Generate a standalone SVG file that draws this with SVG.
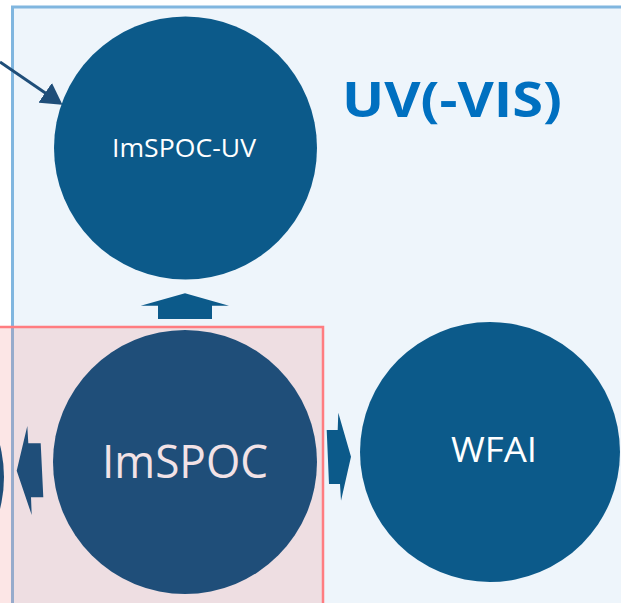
<svg xmlns="http://www.w3.org/2000/svg" width="621" height="603" viewBox="0 0 621 603">
  <style>
    .lbl { font-family: "Open Sans", "Liberation Sans", sans-serif; text-anchor: middle; }
    .dark { fill: #1F4E79; }
    .mid { fill: #0C5A8A; }
  </style>
  <defs>
    <marker id="ah" markerWidth="8" markerHeight="8" refX="6" refY="4" orient="auto" markerUnits="strokeWidth">
      <path d="M0,0 L7,4 L0,8 Z" fill="#1F4E79"/>
    </marker>
  </defs>
  <rect width="621" height="603" fill="#ffffff"/>
  <g id="region-uv">
    <rect x="12.5" y="7" width="640" height="640" fill="#EEF5FB" stroke="#80B6DF" stroke-width="3"/>
  </g>
  <g id="region-imspoc">
    <rect x="-20" y="327" width="343" height="320" fill="#F08080" fill-opacity="0.2" stroke="#FF7C80" stroke-width="2.5"/>
  </g>
  <g id="connectors">
    <line x1="0" y1="62" x2="60" y2="103" stroke="#1F4E79" stroke-width="3" marker-end="url(#ah)"/>
    <polygon class="mid" points="185,293.3 229,305.7 212,305.7 212,319 158,319 158,305.7 140.7,305.7"/>
    <polygon class="dark" points="16.7,470.7 27.3,426 28.3,443.3 40.7,443.3 43.3,497.3 31,497.3 31.7,515"/>
    <polygon class="mid" points="326.7,430 337.7,430 338.3,412.7 351,456.7 341,500.7 340,484 329,484"/>
  </g>
  <g id="node-left">
    <circle class="dark" cx="-126" cy="477" r="130"/>
  </g>
  <g id="node-imspoc-uv">
    <circle class="mid" cx="185.5" cy="148" r="131.5"/>
    <text class="lbl" x="184" y="156.7" font-size="26" fill="#ffffff" textLength="144" lengthAdjust="spacingAndGlyphs">ImSPOC-UV</text>
  </g>
  <g id="node-imspoc">
    <circle class="dark" cx="185" cy="462" r="132"/>
    <text class="lbl" x="185" y="478.3" font-size="46" fill="#F2E2E6" textLength="166" lengthAdjust="spacingAndGlyphs">ImSPOC</text>
  </g>
  <g id="node-wfai">
    <circle class="mid" cx="490" cy="452" r="130"/>
    <text class="lbl" x="494" y="461.7" font-size="34" fill="#ffffff" textLength="86" lengthAdjust="spacingAndGlyphs">WFAI</text>
  </g>
  <g id="title">
    <text class="lbl" x="452" y="116.7" font-size="48" font-weight="bold" fill="#0070C0" textLength="220" lengthAdjust="spacingAndGlyphs">UV(-VIS)</text>
  </g>
</svg>
